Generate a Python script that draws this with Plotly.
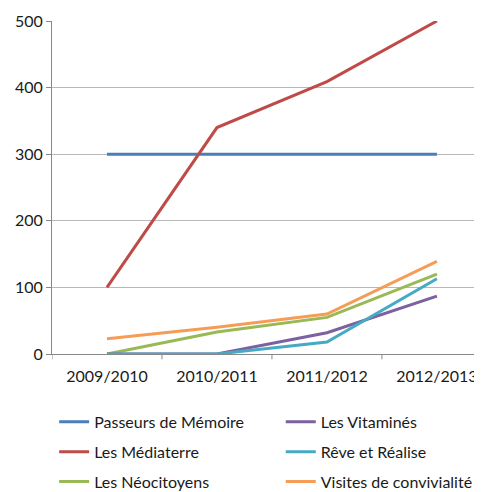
import plotly.graph_objects as go

categories = ["2009/2010", "2010/2011", "2011/2012", "2012/2013"]
passeurs = [300, 300, 300, 300]
mediaterre = [100, 340, 409, 500]
neocitoyens = [0, 33, 55, 120]
vitamines = [0, 0, 32, 87]
reve = [0, 0, 18, 113]
visites = [23, 40, 60, 139]

series = [
    ("Passeurs de Mémoire", passeurs, "#4A7EBB", "legend"),
    ("Les Médiaterre", mediaterre, "#BE4B48", "legend"),
    ("Les Néocitoyens", neocitoyens, "#98B954", "legend"),
    ("Les Vitaminés", vitamines, "#7D60A0", "legend2"),
    ("Rêve et Réalise", reve, "#46AAC5", "legend2"),
    ("Visites de convivialité", visites, "#F59D56", "legend2"),
]

fig = go.Figure()
for name, vals, color, leg in series:
    fig.add_trace(go.Scatter(
        x=list(range(len(categories))), y=vals, name=name, mode="lines",
        line=dict(color=color, width=3), legend=leg, legendgroup=name,
    ))

font = dict(family="Lato, 'Open Sans', sans-serif", size=16, color="#1a1a1a")
legfont = dict(family="Lato, 'Open Sans', sans-serif", size=16, color="#1a1a1a")

# page body has an 8px margin: figure is sized so the plot sits where the reference has it
fig.update_layout(
    width=474, height=484,
    margin=dict(l=44, r=0, t=13, b=138, autoexpand=False),
    plot_bgcolor="white", paper_bgcolor="white",
    font=font,
    showlegend=True,
    legend=dict(x=0.005, y=-0.153, xanchor="left", yanchor="top",
                tracegroupgap=6, font=legfont, bgcolor="rgba(0,0,0,0)"),
    legend2=dict(x=0.532, y=-0.153, xanchor="left", yanchor="top",
                 tracegroupgap=6, font=legfont, bgcolor="rgba(0,0,0,0)"),
    xaxis=dict(
        range=[-0.5, 3.41], tickmode="array", automargin=False,
        tickvals=list(range(len(categories))), ticktext=categories,
        showgrid=False, showline=True, linecolor="#888", linewidth=1,
        ticks="", zeroline=False, ticklabelstandoff=8,
        tickfont=font,
    ),
    yaxis=dict(
        range=[0, 500], dtick=100, showgrid=True, gridcolor="#B8B8B8",
        gridwidth=1, showline=True, linecolor="#888", linewidth=1,
        ticks="outside", ticklen=5, tickcolor="#888", zeroline=False,
        tickfont=font, automargin=False,
    ),
)

# category boundary tick marks on the x axis
for b in [-0.5, 0.5, 1.5, 2.5]:
    fig.add_shape(type="line", xref="x", yref="paper", x0=b, x1=b,
                  y0=0, y1=-0.016, line=dict(color="#888", width=1))

fig.write_html("out.html")
